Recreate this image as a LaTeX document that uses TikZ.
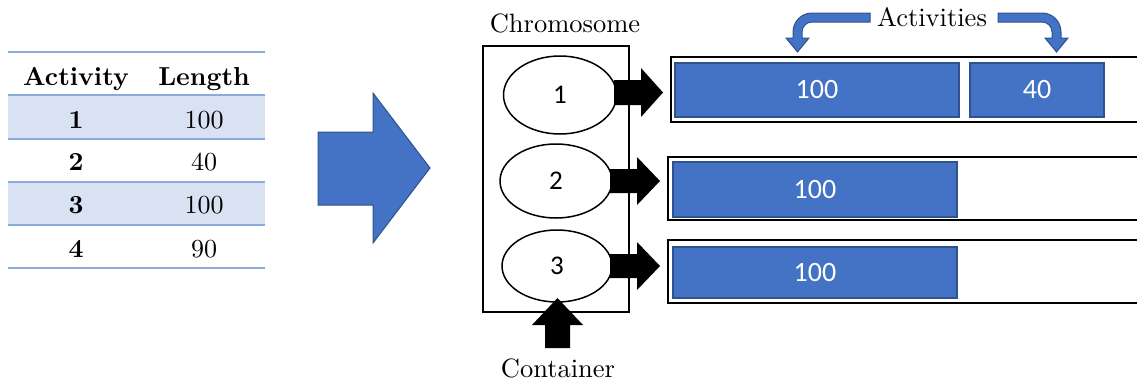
\documentclass[tikz,border=0pt]{standalone}
\usepackage{fontspec}
\usepackage{graphicx}
\newfontfamily\carlito{Carlito}
\usetikzlibrary{shapes.geometric}
\definecolor{bl}{HTML}{4472C4}
\definecolor{bld}{HTML}{2F528F}
\definecolor{tline}{HTML}{8EAADB}
\definecolor{tfill}{HTML}{D9E2F3}
\newcommand\lbltxt[1]{\scalebox{2.65}{#1}}
\newcommand\tabtext[1]{\scalebox{2.6}{#1}}
\begin{document}
\begin{tikzpicture}[x=1pt,y=-1pt,
  serif/.style={inner sep=0pt, anchor=base},
  tabtxt/.style={inner sep=0pt, anchor=base},
  tabbold/.style={font=\bfseries, inner sep=0pt, anchor=base},
  bbox/.style={draw=bld, fill=bl, line width=1.5pt, inner sep=0pt, text=white,
    font=\carlito\fontsize{28}{32}\selectfont},
  chromo/.style={ellipse, draw=black, fill=white, line width=1.5pt, inner sep=0pt,
    font=\carlito\fontsize{27}{30}\selectfont},
  rowbox/.style={draw=black, line width=2.5pt},
  blockarrow/.style={fill=black},
  bluearrow/.style={fill=bl, draw=bld, line width=1pt, line join=miter}]
\useasboundingbox (0,0) rectangle (1137,383);

% ---------- table ----------
\fill[tfill] (8,95) rectangle (265,139);
\fill[tfill] (8,182) rectangle (265,225);
\foreach \yy in {52,95,139,182,225,268}
  \draw[tline, line width=1.3pt] (8,\yy) -- (265,\yy);
\node[tabbold] (hA) at (76,85) {\tabtext{Activity}};
\node[tabbold] (hL) at (204,85) {\tabtext{Length}};
\node[tabbold] (r1) at (76,128) {\tabtext{1}};
\node[tabtxt]  (v1) at (204,128) {\tabtext{100}};
\node[tabbold] (r2) at (76,170) {\tabtext{2}};
\node[tabtxt]  (v2) at (204,170) {\tabtext{40}};
\node[tabbold] (r3) at (76,213) {\tabtext{3}};
\node[tabtxt]  (v3) at (204,213) {\tabtext{100}};
\node[tabbold] (r4) at (76,257) {\tabtext{4}};
\node[tabtxt]  (v4) at (204,257) {\tabtext{90}};

% ---------- big blue arrow ----------
\filldraw[bluearrow] (318,132) -- (373,132) -- (373,93) -- (430,168) -- (373,243)
  -- (373,205) -- (318,205) -- cycle;

% ---------- chromosome ----------
\node[serif] (chromlbl) at (565,32) {\lbltxt{Chromosome}};
\node[draw=black, line width=1.4pt, minimum width=146pt, minimum height=266pt,
  inner sep=0pt] (chrom) at (556,179) {};
\node[chromo, minimum width=113pt, minimum height=78pt] (e1) at (560,95) {1};
\node[chromo, minimum width=112pt, minimum height=74pt] (e2) at (556,181) {2};
\node[chromo, minimum width=110pt, minimum height=72pt] (e3) at (557,266) {3};

% black block arrows
\fill[blockarrow] (614,80) -- (641,80) -- (641,68) -- (663,92.5) -- (641,117)
  -- (641,105) -- (614,105) -- cycle;
\fill[blockarrow] (610,169) -- (637,169) -- (637,157) -- (660,181) -- (637,205)
  -- (637,193) -- (610,193) -- cycle;
\fill[blockarrow] (610,254) -- (637,254) -- (637,242) -- (660,266) -- (637,290)
  -- (637,278) -- (610,278) -- cycle;
% container arrow
\fill[blockarrow] (545,348) -- (545,325) -- (532,325) -- (557.5,298) -- (583,325)
  -- (570,325) -- (570,348) -- cycle;
\node[serif] (contlbl) at (558,377) {\lbltxt{Container}};

% ---------- rows ----------
\draw[rowbox] (1140,57) -- (671,57) -- (671,122) -- (1140,122);
\draw[rowbox] (1140,157) -- (668,157) -- (668,220) -- (1140,220);
\draw[rowbox] (1140,240) -- (668,240) -- (668,303) -- (1140,303);

\node[bbox, minimum width=284pt, minimum height=54pt] (a11) at (817,90) {100};
\node[bbox, minimum width=134pt, minimum height=54pt] (a12) at (1037,90) {40};
\node[bbox, minimum width=284pt, minimum height=55pt] (a21) at (815,189.5) {100};
\node[bbox, minimum width=284pt, minimum height=51pt] (a31) at (815,272.5) {100};

% ---------- activities ----------
\node[serif] (actlbl) at (932,26) {\lbltxt{Activities}};
\filldraw[bluearrow] (870,13) -- (812,13) .. controls (801.5,13) and (793,21.5) .. (793,32)
  -- (793,38) -- (786,38) -- (797.5,52) -- (809,38) -- (802,38) -- (802,32)
  .. controls (802,26.5) and (806.5,22) .. (812,22) -- (870,22) -- cycle;
\filldraw[bluearrow] (998,13) -- (1042,13) .. controls (1052.5,13) and (1061,21.5) .. (1061,32)
  -- (1061,38) -- (1068,38) -- (1056.5,52) -- (1045,38) -- (1052,38) -- (1052,32)
  .. controls (1052,26.5) and (1047.5,22) .. (1042,22) -- (998,22) -- cycle;
\end{tikzpicture}
\end{document}
